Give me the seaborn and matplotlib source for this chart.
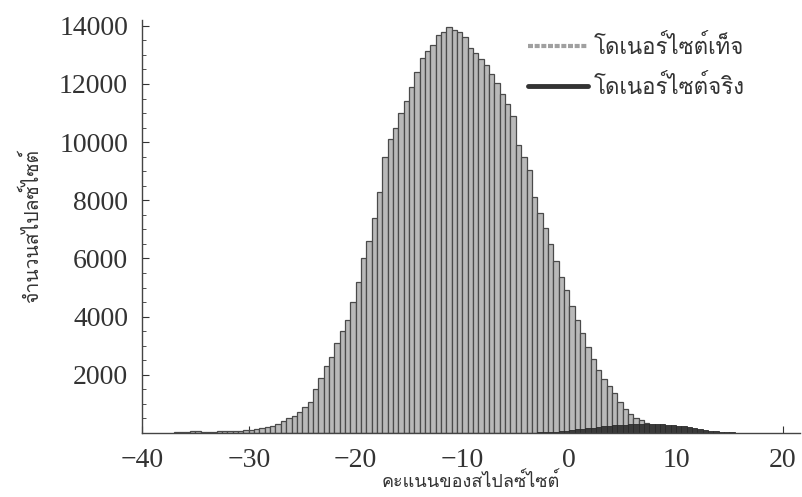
import matplotlib
matplotlib.use('Agg')
import numpy as np
import pandas as pd
import matplotlib.pyplot as plt
import seaborn as sns
from matplotlib import font_manager
from matplotlib.lines import Line2D
from matplotlib.ticker import MultipleLocator, FixedLocator
from fontTools.ttLib import TTFont

# Histogram counts, bin width 0.5
BIN_WIDTH = 0.5

false_start = -37.0
false_counts = [
    20, 30, 40, 60, 70, 50, 45, 50, 55, 60,          # -37.0 .. -32.5
    65, 75, 85, 95, 110, 130, 160, 190, 250, 320,    # -32.0 .. -27.5
    400, 500, 600, 720, 880, 1050, 1500, 1900, 2300, 2600,   # -27.0 .. -22.5
    3100, 3500, 3900, 4500, 5200, 6000, 6600, 7400, 8300, 9500,   # -22.0 .. -17.5
    10100, 10500, 11000, 11400, 11900, 12400, 12900, 13150, 13350, 13700,  # -17.0 .. -12.5
    13800, 13950, 13850, 13800, 13600, 13250, 13050, 12850, 12650, 12350,  # -12.0 .. -7.5
    12050, 11650, 11300, 10900, 9900, 9500, 9050, 8100, 7550, 7050,  # -7.0 .. -2.5
    6500, 5900, 5350, 4900, 4350, 3900, 3450, 2950, 2550, 2150,  # -2.0 .. 2.5
    1850, 1600, 1380, 1080, 820, 650, 530, 440, 350, 270,  # 3.0 .. 7.5
    200, 140, 80, 50, 35, 25, 15, 10, 5,  # 8.0 .. 12.0
]

true_start = -4.0
true_counts = [
    10, 15, 20, 30, 40, 50, 65, 80, 100, 120,   # -4.0 .. 0.5
    140, 165, 185, 205, 225, 245, 260, 275, 290, 300,  # 1.0 .. 5.5
    310, 315, 320, 320, 315, 305, 290, 270, 250, 225,  # 6.0 .. 10.5
    195, 165, 135, 105, 80, 60, 40, 28, 18, 10, 6, 3,  # 11.0 .. 16.5
]

x_ticks = [-40, -30, -20, -10, 0, 10, 20]
y_ticks = [2000, 4000, 6000, 8000, 10000, 12000, 14000]

legend_labels = ['โดเนอร์ไซต์เท็จ', 'โดเนอร์ไซต์จริง']
x_label = 'คะแนนของสไปลซ์ไซต์'
y_label = 'จำนวนสไปลซ์ไซต์'


def to_frame(start, counts, name):
    centers = start + BIN_WIDTH * (np.arange(len(counts)) + 0.5)
    return pd.DataFrame({'score': centers, 'count': counts, 'kind': name})


df_false = to_frame(false_start, false_counts, legend_labels[0])
df_true = to_frame(true_start, true_counts, legend_labels[1])


# find an installed font that has Thai glyphs
def has_thai(path):
    try:
        f = TTFont(path, fontNumber=0, lazy=True)
        return 0x0E42 in f.getBestCmap()
    except Exception:
        return False


thai_fonts = []
for fe in font_manager.fontManager.ttflist:
    if fe.name not in thai_fonts and has_thai(fe.fname):
        thai_fonts.append(fe.name)

sns.set_style('ticks')
num_font = 'Liberation Serif'
thai_family = thai_fonts[:1] + [num_font, 'DejaVu Sans']
plt.rcParams['font.family'] = [num_font, 'DejaVu Sans']

fig = plt.figure(figsize=(8.03, 4.97), dpi=100)
ax = fig.add_axes([0.1768, 0.1288, 0.8194, 0.831])

sns.histplot(data=df_false, x='score', weights='count',
             binwidth=BIN_WIDTH, binrange=(false_start, false_start + BIN_WIDTH * len(false_counts)),
             color='#b9b9b9', edgecolor='#4a4a4a', linewidth=0.9, alpha=1, ax=ax)
sns.histplot(data=df_true, x='score', weights='count',
             binwidth=BIN_WIDTH, binrange=(true_start, true_start + BIN_WIDTH * len(true_counts)),
             color='#3a3a3a', edgecolor='#2a2a2a', linewidth=0.6, alpha=1, ax=ax)

ax.set_xlim(-40, 21.6)
ax.set_ylim(0, 14200)
ax.xaxis.set_major_locator(FixedLocator(x_ticks))
ax.yaxis.set_major_locator(FixedLocator(y_ticks))
ax.yaxis.set_minor_locator(MultipleLocator(500))
ax.set_xticklabels(['\u2212' + str(-t) if t < 0 else str(t) for t in x_ticks])
ax.set_yticklabels([str(t) for t in y_ticks])
ax.tick_params(axis='both', which='major', direction='in', length=5, width=0.8,
               colors='#333333', labelsize=20)
ax.tick_params(axis='both', which='minor', direction='in', length=3, width=0.6, colors='#333333')
ax.tick_params(axis='y', pad=10)
ax.tick_params(axis='x', pad=11)

for side in ['top', 'right']:
    ax.spines[side].set_visible(False)
for side in ['left', 'bottom']:
    ax.spines[side].set_color('#444444')
    ax.spines[side].set_linewidth(1.0)

ax.set_xlabel(x_label, family=thai_family, fontsize=13, color='#333333', labelpad=-1)
ax.set_ylabel(y_label, family=thai_family, fontsize=14, color='#333333', labelpad=12)

handles = [Line2D([0], [0], color='#a0a0a0', lw=3, dashes=(1.2, 0.4)),
           Line2D([0], [0], color='#333333', lw=3.5)]
leg = ax.legend(handles, legend_labels, loc='upper left', bbox_to_anchor=(0.57, 0.99),
                frameon=False, handlelength=2.7, handletextpad=0.25, labelspacing=0.7,
                borderpad=0, prop={'family': thai_family, 'size': 16})
for t in leg.get_texts():
    t.set_color('#333333')

fig.savefig('out.png', dpi=100)
